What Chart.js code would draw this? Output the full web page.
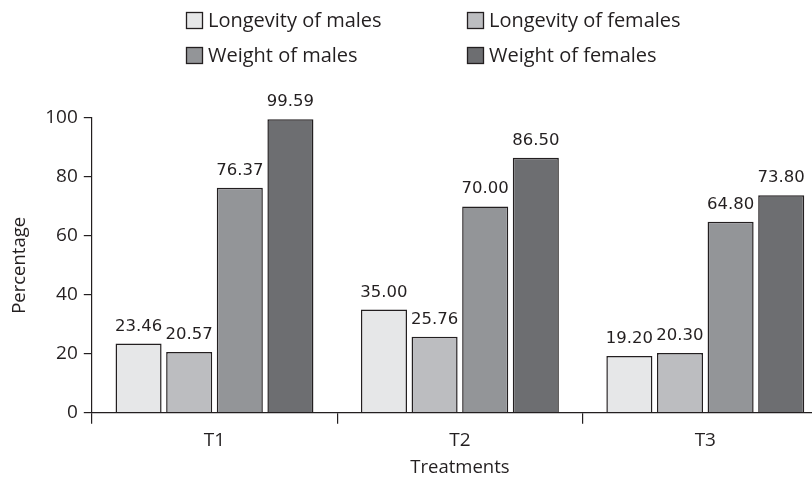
<!DOCTYPE html>
<html>
<head>
<meta charset="utf-8">
<script src="https://cdn.jsdelivr.net/npm/chart.js@4.4.0/dist/chart.umd.min.js"></script>
<style>
  html, body { margin: 0; padding: 0; background: #fff; overflow: hidden; }
  #wrap { width: 830px; height: 477px; }
</style>
</head>
<body>
<div id="wrap"><canvas id="barChart"></canvas></div>
<script>
var treatments = ['T1', 'T2', 'T3'];
var longevityMales = [23.46, 35.00, 19.20];
var longevityFemales = [20.57, 25.76, 20.30];
var weightMales = [76.37, 70.00, 64.80];
var weightFemales = [99.59, 86.50, 73.80];
var seriesNames = ['Longevity of males', 'Longevity of females', 'Weight of males', 'Weight of females'];
var seriesColors = ['#e6e7e8', '#bcbdc0', '#939598', '#6d6e71'];
var yTicks = [0, 20, 40, 60, 80, 100];

var ink = '#231f20';
var sans = '"Open Sans", "Noto Sans", sans-serif';

// value labels above every bar
var valueLabels = {
    id: 'valueLabels',
    afterDatasetsDraw: function (chart) {
        var ctx = chart.ctx;
        ctx.save();
        ctx.font = '16.5px "DejaVu Sans", sans-serif';
        ctx.fillStyle = ink;
        ctx.textAlign = 'center';
        ctx.textBaseline = 'bottom';
        chart.data.datasets.forEach(function (ds, i) {
            chart.getDatasetMeta(i).data.forEach(function (bar, j) {
                ctx.fillText(ds.data[j].toFixed(2), bar.x, bar.y - 9);
            });
        });
        ctx.restore();
    }
};

// two-column legend at the top
var gridLegend = {
    id: 'gridLegend',
    afterDraw: function (chart) {
        var ctx = chart.ctx;
        var cols = [186, 467];
        var rows = [12, 47];
        var box = 17;
        ctx.save();
        ctx.font = '20px ' + sans;
        ctx.textBaseline = 'middle';
        ctx.textAlign = 'left';
        chart.data.datasets.forEach(function (ds, i) {
            var x = cols[i % 2];
            var y = rows[Math.floor(i / 2)];
            ctx.fillStyle = ds.backgroundColor;
            ctx.fillRect(x, y, box, box);
            ctx.strokeStyle = ink;
            ctx.lineWidth = 1.3;
            ctx.strokeRect(x + 0.5, y + 0.5, box - 1, box - 1);
            ctx.fillStyle = ink;
            ctx.fillText(ds.label, x + box + 5, y + box / 2 + 1);
        });
        ctx.restore();
    }
};

var allSeries = [longevityMales, longevityFemales, weightMales, weightFemales];

var ctx = document.getElementById('barChart').getContext('2d');
var barChart = new Chart(ctx, {
    type: 'bar',
    data: {
        labels: treatments,
        datasets: allSeries.map(function (values, i) {
            return {
                label: seriesNames[i],
                data: values,
                backgroundColor: seriesColors[i],
                borderColor: ink,
                borderWidth: 1.5,
                categoryPercentage: 0.825,
                barPercentage: 0.91
            };
        })
    },
    options: {
        responsive: true,
        maintainAspectRatio: false,
        animation: false,
        layout: { padding: { top: 118, right: 2, left: 9, bottom: 0 } },
        plugins: {
            legend: { display: false },
            tooltip: { enabled: false }
        },
        scales: {
            x: {
                grid: { drawOnChartArea: false, offset: true, tickLength: 11, color: ink, lineWidth: 1.2 },
                border: { color: ink, width: 1.2 },
                ticks: { color: ink, font: { family: sans, size: 19 }, padding: 5 },
                title: { display: true, text: 'Treatments', color: ink, font: { family: sans, size: 18.5, lineHeight: 1 }, padding: { top: 2, bottom: 0 } }
            },
            y: {
                min: 0,
                max: 100,
                afterBuildTicks: function (axis) {
                    axis.ticks = yTicks.map(function (v) { return { value: v }; });
                },
                grid: { drawOnChartArea: false, tickLength: 8, color: ink, lineWidth: 1.2 },
                border: { color: ink, width: 1.2 },
                ticks: { color: ink, font: { family: sans, size: 19 }, padding: 6 },
                title: { display: true, text: 'Percentage', color: ink, font: { family: sans, size: 18.5 }, padding: { top: 0, bottom: 8 } }
            }
        }
    },
    plugins: [valueLabels, gridLegend]
});
</script>
</body>
</html>
